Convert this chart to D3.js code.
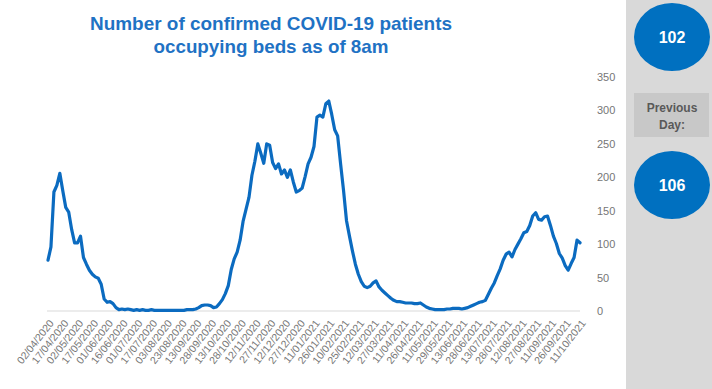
<!DOCTYPE html>
<html>
<head>
<meta charset="utf-8">
<script src="https://cdn.jsdelivr.net/npm/d3@7"></script>
<style>
  body { margin: 0; background: #fff; }
  svg { display: block; }
</style>
</head>
<body>
<svg id="chart" width="712" height="389"></svg>
<script>
// Chart title (two lines)
const titleLines = ["Number of confirmed COVID-19 patients", "occupying beds as of 8am"];

// Category labels shown on the x axis (every 15th day)
const dateLabels = [
  "02/04/2020", "17/04/2020", "02/05/2020", "17/05/2020", "01/06/2020", "16/06/2020",
  "01/07/2020", "17/07/2020", "03/08/2020", "23/08/2020", "13/09/2020", "28/09/2020",
  "13/10/2020", "28/10/2020", "12/11/2020", "27/11/2020", "12/12/2020", "27/12/2020",
  "11/01/2021", "26/01/2021", "10/02/2021", "25/02/2021", "12/03/2021", "27/03/2021",
  "11/04/2021", "26/04/2021", "11/05/2021", "29/05/2021", "13/06/2021", "28/06/2021",
  "13/07/2021", "28/07/2021", "12/08/2021", "27/08/2021", "11/09/2021", "26/09/2021",
  "11/10/2021"
];
// Days between consecutive x-axis labels, and days between recorded samples
const labelStep = 15;
const sampleStep = 3;

// Confirmed COVID-19 patients in beds at 8am, one reading every third day
const bedsOccupied = [
  76, 96, 178, 188, 206, 180, 155, 148, 122, 102,
  102, 112, 80, 70, 61, 55, 51, 49, 40, 18,
  13, 14, 11, 5, 2, 3, 2, 3, 2, 1,
  2, 1, 2, 1, 1, 2, 1, 1, 1, 1,
  1, 1, 1, 1, 1, 1, 1, 2, 2, 2,
  3, 5, 8, 9, 9, 8, 5, 6, 11, 17,
  26, 38, 62, 78, 88, 106, 134, 152, 170, 203,
  224, 250, 236, 221, 250, 248, 222, 213, 220, 205,
  211, 200, 211, 193, 178, 180, 184, 201, 220, 230,
  246, 290, 293, 290, 310, 314, 294, 271, 262, 220,
  180, 135, 112, 90, 70, 55, 44, 37, 35, 37,
  42, 45, 36, 31, 27, 23, 19, 16, 14, 14,
  13, 12, 12, 12, 11, 11, 12, 9, 6, 4,
  3, 2, 2, 2, 2, 3, 3, 4, 4, 4,
  3, 4, 5, 7, 9, 11, 13, 14, 16, 25,
  34, 42, 53, 63, 76, 85, 88, 81, 92, 100,
  108, 117, 119, 128, 142, 147, 137, 136, 141, 142,
  128, 112, 101, 86, 79, 68, 61, 71, 80, 106,
  102
];

// Value axis ticks
const yTicks = [0, 50, 100, 150, 200, 250, 300, 350];

// Latest reading and the one before it
const currentValue = 102;
const previousValue = 106;
const previousLabel = ["Previous", "Day:"];

const blue = "#0b6bc0";
const axisGrey = "#767676";

const svg = d3.select("#chart");

// Scales
const x = d3.scaleLinear()
  .domain([0, (bedsOccupied.length - 1)])
  .range([48, 580]);
const y = d3.scaleLinear()
  .domain([0, 350])
  .range([311, 77]);

// Title
const title = svg.append("g")
  .attr("font-family", "'Liberation Sans', Arial, sans-serif")
  .attr("font-weight", "bold")
  .attr("font-size", 19)
  .attr("fill", "#1f72c4")
  .attr("text-anchor", "middle");
title.selectAll("text")
  .data(titleLines)
  .join("text")
  .attr("x", 271)
  .attr("y", (d, i) => 30 + i * 23)
  .attr("textLength", (d, i) => i === 0 ? 362 : 235)
  .attr("lengthAdjust", "spacingAndGlyphs")
  .text(d => d);

// Zero baseline
svg.append("line")
  .attr("x1", 47).attr("x2", 580)
  .attr("y1", y(0)).attr("y2", y(0))
  .attr("stroke", "#d9d9d9")
  .attr("stroke-width", 1);

// Right-hand value axis
const yAxis = svg.append("g")
  .attr("transform", "translate(595,0)")
  .call(d3.axisRight(y).tickValues(yTicks).tickSize(0).tickPadding(2));
yAxis.select(".domain").remove();
yAxis.selectAll("text")
  .attr("font-family", "'Liberation Sans', Arial, sans-serif")
  .attr("font-size", 11)
  .attr("fill", axisGrey);

// Bottom category axis with slanted date labels
const perLabel = labelStep / sampleStep;
const xAxis = svg.append("g")
  .attr("transform", `translate(0,${y(0) + 4})`)
  .call(d3.axisBottom(x)
    .tickValues(dateLabels.map((d, i) => i * perLabel))
    .tickFormat(v => dateLabels[Math.round(v / perLabel)])
    .tickSize(0)
    .tickPadding(0));
xAxis.select(".domain").remove();
xAxis.selectAll("text")
  .attr("font-family", "'Liberation Sans', Arial, sans-serif")
  .attr("font-size", 10.5)
  .attr("fill", axisGrey)
  .attr("text-anchor", "end")
  .attr("x", 3)
  .attr("y", 6)
  .attr("dy", "0.35em")
  .attr("transform", "rotate(-52, 3, 6)");

// Bed occupancy line
const line = d3.line()
  .x((d, i) => x(i))
  .y(d => y(d))
  .curve(d3.curveLinear);
svg.append("path")
  .datum(bedsOccupied)
  .attr("d", line)
  .attr("fill", "none")
  .attr("stroke", blue)
  .attr("stroke-width", 3.2)
  .attr("stroke-linejoin", "round")
  .attr("stroke-linecap", "round");

// Side panel with the latest figures
const panel = svg.append("g");
panel.append("rect")
  .attr("x", 626).attr("y", 0)
  .attr("width", 86).attr("height", 389)
  .attr("fill", "#d9d9d9");

const bubbles = [
  { value: currentValue, cy: 37 },
  { value: previousValue, cy: 185 }
];
panel.selectAll("ellipse")
  .data(bubbles)
  .join("ellipse")
  .attr("cx", 672)
  .attr("cy", d => d.cy)
  .attr("rx", 38)
  .attr("ry", 34)
  .attr("fill", "#0070c0");
panel.selectAll("text.bubble")
  .data(bubbles)
  .join("text")
  .attr("class", "bubble")
  .attr("x", 672)
  .attr("y", d => d.cy)
  .attr("dy", "0.36em")
  .attr("text-anchor", "middle")
  .attr("font-family", "'Liberation Sans', Arial, sans-serif")
  .attr("font-weight", "bold")
  .attr("font-size", 16)
  .attr("fill", "#ffffff")
  .text(d => d.value);

panel.append("rect")
  .attr("x", 634).attr("y", 93)
  .attr("width", 75).attr("height", 44)
  .attr("fill", "#c8c8c8");
panel.selectAll("text.prev")
  .data(previousLabel)
  .join("text")
  .attr("class", "prev")
  .attr("x", 672)
  .attr("y", (d, i) => 112 + i * 17)
  .attr("text-anchor", "middle")
  .attr("font-family", "'Liberation Sans', Arial, sans-serif")
  .attr("font-weight", "bold")
  .attr("font-size", 12)
  .attr("fill", "#595959")
  .text(d => d);
</script>
</body>
</html>
